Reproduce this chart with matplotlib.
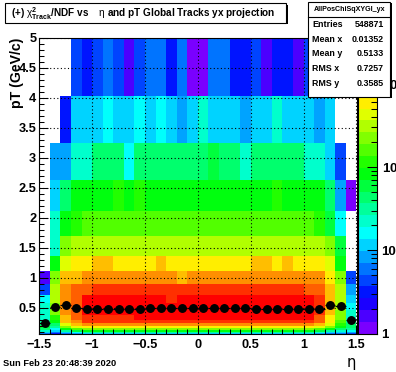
import colorsys
import numpy as np
import matplotlib
matplotlib.use("Agg")
import matplotlib.pyplot as plt
from matplotlib.colors import ListedColormap, LogNorm
from matplotlib.patches import Rectangle
from matplotlib.lines import Line2D
from matplotlib.ticker import FixedLocator, MultipleLocator, NullFormatter, LogLocator

plt.rcParams['font.family'] = ['Liberation Sans', 'DejaVu Sans']
plt.rcParams['mathtext.fontset'] = 'custom'
plt.rcParams['mathtext.rm'] = 'Liberation Sans'
plt.rcParams['mathtext.bf'] = 'Liberation Sans:bold'
plt.rcParams['mathtext.it'] = 'Liberation Sans:italic'

# ---------------- data ----------------
eta_edges = [-1.5, -1.4, -1.3, -1.2, -1.1, -1.0, -0.9, -0.8, -0.7, -0.6, -0.5,
             -0.4, -0.3, -0.2, -0.1, 0.0, 0.1, 0.2, 0.3, 0.4, 0.5,
             0.6, 0.7, 0.8, 0.9, 1.0, 1.1, 1.2, 1.3, 1.4, 1.5]
pt_edges = [0.067, 0.083, 0.103, 0.128, 0.159, 0.197, 0.245, 0.303, 0.376, 0.467,
            0.579, 0.718, 0.891, 1.105, 1.37, 1.70, 2.11, 2.62, 3.25, 4.03, 5.0]

# bin contents, one list per pT row, from the top row (4.03-5.0) down to the bottom row
counts_top_down = [
    [0, 0, 0, 4.4, 3.1, 4.4, 6, 4.4, 1.6, 4.4, 6, 6, 3.1, 6, 1.2, 1.2, 6, 6, 3.1, 3.1, 4.4, 1.6, 3.1, 3.1, 1.6, 4.4, 2.3, 1.6, 1.2, 0],
    [0, 0, 3.1, 12, 12, 12, 16, 12, 12, 16, 12, 16, 12, 8.4, 12, 22, 12, 12, 12, 8.4, 12, 12, 22, 12, 12, 12, 8.4, 12, 0, 0],
    [0, 8.4, 8.4, 22, 22, 43, 43, 43, 16, 43, 43, 43, 43, 43, 43, 43, 60, 43, 43, 22, 43, 43, 43, 43, 43, 22, 22, 12, 4.4, 0],
    [0, 12, 43, 83, 83, 83, 83, 115, 83, 115, 83, 83, 83, 83, 83, 83, 83, 83, 83, 83, 83, 83, 115, 83, 83, 83, 83, 43, 8.4, 1.2],
    [0, 22, 83, 115, 160, 160, 160, 160, 160, 160, 160, 160, 160, 160, 160, 160, 160, 160, 160, 160, 160, 160, 160, 160, 160, 160, 115, 60, 16, 0],
    [0, 22, 220, 305, 305, 305, 305, 305, 305, 305, 305, 305, 305, 305, 305, 305, 305, 305, 305, 305, 305, 305, 305, 305, 305, 305, 305, 220, 60, 0],
    [0, 83, 425, 590, 590, 820, 820, 590, 590, 590, 590, 820, 590, 590, 590, 590, 590, 590, 590, 590, 820, 820, 590, 820, 590, 590, 590, 425, 83, 0],
    [1.6, 220, 820, 820, 1140, 1140, 1140, 1140, 1140, 1140, 1140, 1140, 1140, 820, 1140, 1140, 1140, 1140, 1140, 1140, 1140, 1140, 1140, 1140, 1140, 1140, 1140, 590, 220, 4.4],
    [4.4, 305, 1140, 1580, 1580, 2190, 2190, 2190, 2190, 2190, 2190, 2190, 2190, 2190, 2190, 2190, 2190, 2190, 2190, 2190, 2190, 2190, 2190, 2190, 2190, 1580, 1580, 820, 305, 8.4],
    [16, 305, 1140, 1580, 3000, 3000, 3000, 3000, 3000, 3000, 3000, 3000, 2190, 3000, 3000, 3000, 3000, 3000, 3000, 3000, 3000, 3000, 3000, 3000, 3000, 3000, 2190, 820, 305, 12],
    [22, 220, 1140, 1580, 3000, 3000, 3000, 3000, 3000, 3000, 3000, 3000, 3000, 3000, 3000, 3000, 3000, 3000, 3000, 3000, 3000, 3000, 3000, 3000, 3000, 3000, 2190, 820, 305, 16],
    [22, 220, 1140, 1580, 3000, 3000, 3000, 3000, 3000, 3000, 3000, 3000, 3000, 3000, 3000, 3000, 3000, 3000, 3000, 3000, 3000, 3000, 3000, 3000, 3000, 3000, 2190, 820, 220, 22],
    [22, 115, 820, 1580, 2190, 2190, 2190, 2190, 2190, 3000, 3000, 3000, 3000, 3000, 3000, 3000, 3000, 3000, 3000, 3000, 3000, 3000, 3000, 3000, 3000, 3000, 1580, 590, 220, 22],
    [31, 83, 820, 1140, 2190, 2190, 2190, 2190, 2190, 2190, 2190, 2190, 2190, 2190, 2190, 2190, 2190, 2190, 2190, 2190, 2190, 2190, 2190, 2190, 2190, 2190, 1580, 590, 160, 31],
    [43, 43, 425, 820, 1140, 1140, 1140, 1140, 1140, 1140, 1140, 1140, 1140, 1140, 1140, 1140, 1140, 1140, 1140, 1140, 1140, 1140, 1140, 1140, 1140, 1140, 820, 425, 115, 43],
    [60, 31, 220, 425, 590, 590, 590, 590, 590, 590, 590, 590, 590, 590, 590, 590, 590, 590, 590, 590, 590, 590, 590, 590, 590, 590, 425, 220, 83, 43],
    [43, 16, 83, 160, 220, 220, 220, 220, 220, 220, 220, 220, 220, 220, 220, 220, 220, 220, 220, 220, 220, 220, 220, 220, 220, 220, 160, 83, 43, 31],
    [22, 12, 31, 60, 83, 83, 83, 83, 83, 83, 83, 83, 83, 83, 83, 83, 83, 83, 83, 83, 83, 83, 83, 83, 83, 83, 60, 31, 22, 16],
    [12, 6, 12, 16, 31, 31, 31, 31, 31, 31, 31, 31, 31, 31, 31, 31, 31, 31, 31, 31, 31, 31, 31, 31, 31, 31, 22, 12, 12, 8.4],
    [6, 3.1, 6, 8.4, 12, 12, 12, 12, 12, 12, 12, 12, 12, 12, 12, 12, 12, 12, 12, 12, 12, 12, 12, 12, 12, 12, 8.4, 6, 6, 4.4],
]

# profile (mean pT per eta bin) overlaid as black markers
profile_eta = [-1.45, -1.35, -1.25, -1.15, -1.05, -0.95, -0.85, -0.75, -0.65, -0.55,
               -0.45, -0.35, -0.25, -0.15, -0.05, 0.05, 0.15, 0.25, 0.35, 0.45,
               0.55, 0.65, 0.75, 0.85, 0.95, 1.05, 1.15, 1.25, 1.35, 1.45]
profile_pt = [0.255, 0.52, 0.54, 0.50, 0.483, 0.483, 0.483, 0.483, 0.483, 0.483,
              0.50, 0.50, 0.50, 0.50, 0.50, 0.50, 0.50, 0.50, 0.50, 0.50,
              0.483, 0.483, 0.483, 0.483, 0.483, 0.483, 0.483, 0.54, 0.535, 0.29]
profile_xerr = 0.05

z_min, z_max = 1.0, 3550.0

x_ticks = [-1.5, -1.0, -0.5, 0.0, 0.5, 1.0, 1.5]
x_ticklabels = ['\u22121.5', '\u22121', '\u22120.5', '0', '0.5', '1', '1.5']
y_ticks = [0.5, 1.0, 1.5, 2.0, 2.5, 3.0, 3.5, 4.0, 4.5, 5.0]
y_ticklabels = ['0.5', '1', '1.5', '2', '2.5', '3', '3.5', '4', '4.5', '5']
z_ticks = [1, 10, 100, 1000]
z_ticklabels = ['1', '10', r'$\mathbf{10^{2}}$', r'$\mathbf{10^{3}}$']

title_text = (r'(+) $\mathrm{\chi}^{\mathbf{2}}_{\mathbf{Track}}$/NDF vs    $\mathrm{\eta}$'
              r' and pT Global Tracks yx projection')
stats_name = 'AllPosChiSqXYGl_yx'
stats_labels = ['Entries', 'Mean x', 'Mean y', 'RMS x', 'RMS y']
stats_values = ['548871', '0.01352', '0.5133', '0.7257', '0.3585']
date_text = 'Sun Feb 23 20:48:39 2020'

# ---------------- ROOT "pretty" palette (violet -> red), 25 levels ----------------
pal = []
for i in range(25):
    idx = 2 * i + 1
    if idx == 49:
        pal.append((1.0, 0.0, 0.0))
    else:
        hue = 280.0 - (idx + 1) * 5.6
        pal.append(colorsys.hls_to_rgb(hue / 360.0, 0.5, 1.0))
cmap = ListedColormap(pal)
cmap.set_bad((1, 1, 1, 0))
norm = LogNorm(vmin=z_min, vmax=z_max)

W, H = 396, 372
fig = plt.figure(figsize=(W / 100, H / 100), dpi=100)
fig.patch.set_facecolor('white')


def fx(px):
    return px / W


def fy(py):
    return 1 - py / H


# frame in pixel coordinates
L, R, T, B = 39.3, 356.5, 37.5, 333.8
ax = fig.add_axes([fx(L), fy(B), (R - L) / W, (B - T) / H])

Z = np.array(counts_top_down[::-1], dtype=float)
Zm = np.ma.masked_less_equal(Z, 0)
ax.pcolormesh(eta_edges, pt_edges, Zm, cmap=cmap, norm=norm, shading='flat', zorder=1)

ax.set_xlim(-1.5, 1.5)
ax.set_ylim(pt_edges[0], 5.0)

ax.xaxis.set_major_locator(FixedLocator(x_ticks))
ax.set_xticklabels(x_ticklabels)
ax.yaxis.set_major_locator(FixedLocator(y_ticks))
ax.set_yticklabels(y_ticklabels)
ax.xaxis.set_minor_locator(MultipleLocator(0.1))
ax.yaxis.set_minor_locator(MultipleLocator(0.1))
ax.tick_params(which='both', direction='in', top=False, right=False, width=0.75, color='black')
ax.tick_params(which='major', length=6.5)
ax.tick_params(which='minor', length=3.3)
ax.tick_params(axis='x', which='major', pad=3.5, labelsize=9.2)
ax.tick_params(axis='y', which='major', pad=2.2, labelsize=9.2)
for lab in ax.get_xticklabels() + ax.get_yticklabels():
    lab.set_fontweight('bold')
for sp in ax.spines.values():
    sp.set_linewidth(0.8)
    sp.set_zorder(6)

ax.grid(True, which='major', color='black', linestyle=(0, (1, 2.2)), linewidth=0.8, zorder=3)
ax.set_axisbelow(False)

ax.errorbar(profile_eta, profile_pt, xerr=profile_xerr, fmt='o', color='black',
            markersize=5.4, elinewidth=0.9, capsize=0, zorder=5, clip_on=False)

# ---------------- palette axis ----------------
CL, CR = 357.5, 376.7
cax = fig.add_axes([fx(CL), fy(B), (CR - CL) / W, (B - T) / H])
lev_edges = np.logspace(np.log10(z_min), np.log10(z_max), 26)
lev_vals = np.sqrt(lev_edges[:-1] * lev_edges[1:])
cax.pcolormesh([0, 1], lev_edges, lev_vals.reshape(-1, 1), cmap=cmap, norm=norm, shading='flat')
cax.set_yscale('log')
cax.set_ylim(z_min, z_max)
cax.set_xlim(0, 1)
cax.xaxis.set_visible(False)
cax.yaxis.tick_right()
cax.yaxis.set_major_locator(FixedLocator(z_ticks))
cax.set_yticklabels(z_ticklabels)
cax.yaxis.set_minor_locator(LogLocator(base=10, subs=[2, 3, 4, 5, 6, 7, 8, 9]))
cax.yaxis.set_minor_formatter(NullFormatter())
cax.tick_params(which='both', direction='in', left=False, right=True, width=0.75)
cax.tick_params(which='major', length=7, pad=3.5, labelsize=9.5)
cax.tick_params(which='minor', length=4)
for lab in cax.get_yticklabels():
    lab.set_fontweight('bold')
for sp in cax.spines.values():
    sp.set_linewidth(0.8)

# ---------------- title box ----------------
def box(x0, y0, x1, y1, shadow=1.5):
    fig.patches.append(Rectangle((fx(x0 + shadow), fy(y1 + shadow)), (x1 - x0) / W, (y1 - y0) / H,
                                 transform=fig.transFigure, facecolor='black', edgecolor='none', zorder=8))
    fig.patches.append(Rectangle((fx(x0), fy(y1)), (x1 - x0) / W, (y1 - y0) / H,
                                 transform=fig.transFigure, facecolor='white', edgecolor='black',
                                 linewidth=0.8, zorder=9))


box(5, 3, 286, 22.5)
fig.text(fx(11), fy(13.2), title_text, fontsize=7.2, fontweight='bold', ha='left', va='center', zorder=10)

# ---------------- stats box ----------------
box(308.3, 1.5, 390.3, 96.5)
fig.lines.append(Line2D([fx(308.3), fx(390.3)], [fy(16.7), fy(16.7)], transform=fig.transFigure,
                        color='black', linewidth=0.8, zorder=10))
fig.text(fx(349.3), fy(9.3), stats_name, fontsize=5.1, fontweight='bold', ha='center', va='center', zorder=10)
row_y = [24.5, 39.2, 54.0, 68.8, 83.5]
for lab, val, yy in zip(stats_labels, stats_values, row_y):
    fig.text(fx(312.5), fy(yy), lab, fontsize=6.4, fontweight='bold', ha='left', va='center', zorder=10)
    fig.text(fx(384.0), fy(yy), val, fontsize=6.4, fontweight='bold', ha='right', va='center', zorder=10)

# ---------------- axis titles & date ----------------
fig.text(fx(16.5), fy(37.5), 'pT (GeV/c)', rotation=90, fontsize=10.2, fontweight='bold',
         ha='center', va='top')
fig.text(fx(356), fy(362), '\u03b7', fontsize=10.5, ha='right', va='center', family='DejaVu Sans')
fig.text(fx(3), fy(364), date_text, fontsize=6.7, fontweight='bold', ha='left', va='center')

fig.savefig('out.png', dpi=100)
